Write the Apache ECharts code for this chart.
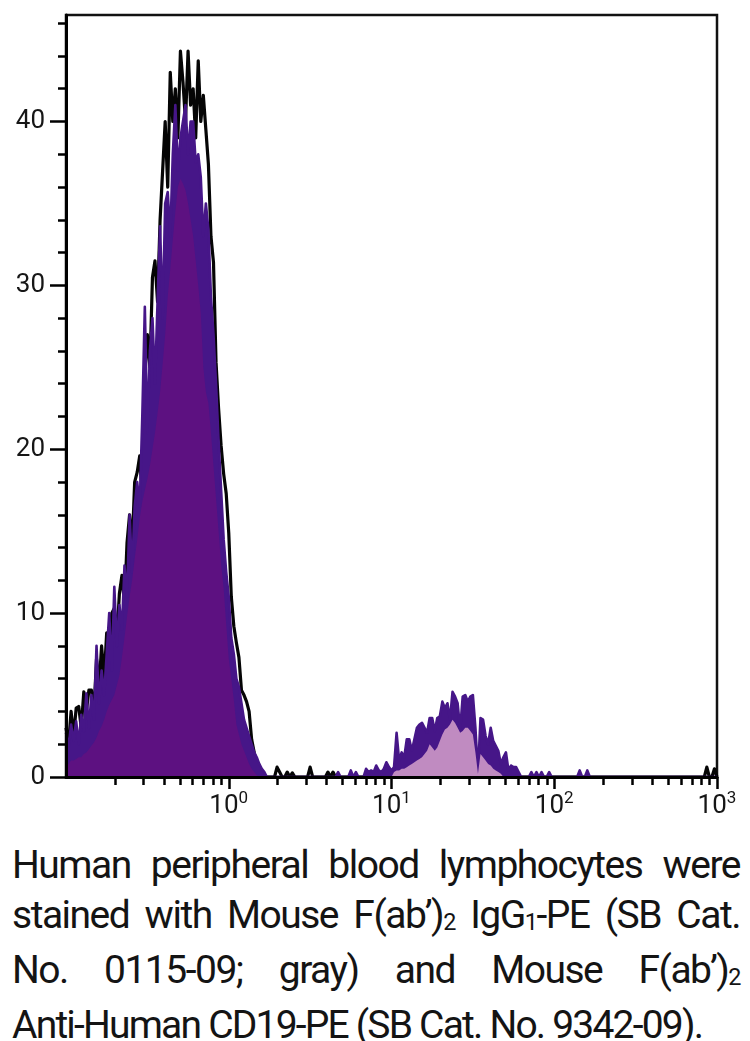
<!DOCTYPE html>
<html>
<head>
<meta charset="utf-8">
<script src="https://cdn.jsdelivr.net/npm/echarts@6/dist/echarts.min.js"></script>
<style>
html, body { margin: 0; padding: 0; background: #fff; }
#chart { position: absolute; left: 0; top: 0; width: 750px; height: 840px; }
#caption { position: absolute; left: 12px; top: 840px; width: 728px; font-family: Roboto, "Liberation Sans", sans-serif; font-size: 39px; letter-spacing: -1.5px; line-height: 50px; color: #141414; }
#caption .j { text-align: justify; text-align-last: justify; }
#caption .l { text-align: left; letter-spacing: -1.8px; }
#caption .sub { font-size: 0.6em; position: relative; top: 0.08em; }
</style>
</head>
<body>
<div id="chart"></div>
<div id="caption">
  <div class="j">Human peripheral blood lymphocytes were</div>
  <div class="j">stained with Mouse F(ab’)<span class="sub">2</span> IgG<span class="sub">1</span>-PE (SB Cat.</div>
  <div class="j">No. 0115-09; gray) and Mouse F(ab’)<span class="sub">2</span></div>
  <div class="l">Anti-Human CD19-PE (SB Cat. No. 9342-09).</div>
</div>
<script>
// ---- channel grid: log-spaced histogram bins (64 per decade, starting at 10^-1) ----
const channelsPerDecade = 64;
const firstExponent = -1;

// ---- axis ticks ----
const yTickValues = [0, 10, 20, 30, 40];
const xMajorTicks = [1, 10, 100, 1000];
const xMinorTicks = [0.2, 0.3, 0.4, 0.5, 0.6, 0.7, 0.8, 0.9,
                     2, 3, 4, 5, 6, 7, 8, 9,
                     20, 30, 40, 50, 60, 70, 80, 90,
                     200, 300, 400, 500, 600, 700, 800, 900];

// ---- isotype control (black outline), counts per channel 0..256 ----
const isotypeCounts = [
  3.0, 2.0, 4.0, 2.5, 4.2, 4.3, 3.0, 5.2, 4.0, 5.3, 5.3, 4.0, 7.2, 5.5, 8.0, 6.0,
  8.8, 7.0, 10.0, 10.3, 8.5, 11.2, 12.3, 10.5, 14.3, 16.0, 14.0, 18.0, 18.6, 19.6, 17.0, 24.5,
  27.0, 25.0, 30.5, 31.5, 29.0, 34.0, 37.0, 40.0, 36.0, 43.0, 40.0, 42.0, 39.0, 44.3, 42.4, 40.0,
  44.3, 41.0, 42.0, 39.0, 43.7, 40.0, 41.6, 39.5, 37.4, 33.0, 31.4, 25.3, 22.5, 20.2, 18.5, 17.3,
  14.9, 11.0, 9.2, 8.2, 7.3, 5.3, 5.0, 4.6, 4.0, 2.3, 1.5, 0.8, 0.3, 0, 0, 0,
  0, 0, 0, 0.6, 0.3, 0, 0, 0.3, 0, 0.25, 0, 0, 0, 0, 0, 0,
  0.6, 0, 0, 0, 0, 0, 0, 0.3, 0, 0.3, 0, 0, 0, 0, 0, 0,
  0, 0, 0, 0, 0, 0, 0, 0, 0, 0, 0, 0, 0, 0, 0, 0,
  0, 0, 0, 0, 0, 0, 0, 0, 0, 0, 0, 0, 0, 0, 0, 0,
  0, 0, 0, 0, 0, 0, 0, 0, 0, 0, 0, 0, 0, 0, 0, 0,
  0, 0, 0, 0, 0, 0, 0, 0, 0, 0, 0, 0, 0, 0, 0, 0,
  0, 0, 0, 0, 0, 0, 0, 0, 0, 0, 0, 0, 0, 0, 0, 0,
  0, 0, 0, 0, 0, 0, 0, 0, 0, 0, 0, 0, 0, 0, 0, 0,
  0, 0, 0, 0, 0, 0, 0, 0, 0, 0, 0, 0, 0, 0, 0, 0,
  0, 0, 0, 0, 0, 0, 0, 0, 0, 0, 0, 0, 0, 0, 0, 0,
  0, 0, 0, 0, 0, 0, 0, 0, 0, 0, 0, 0, 0.6, 0, 0, 0.5,
  0
];

// ---- anti-CD19 stained sample (spiky outline), counts per channel 0..256 ----
const cd19Counts = [
  2.7, 1.8, 3.2, 2.2, 3.4, 2.0, 3.8, 2.8, 5.1, 3.0, 5.0, 3.5, 8.0, 4.5, 6.5, 5.0,
  7.5, 10.0, 6.5, 11.6, 8.0, 10.5, 9.0, 12.9, 11.0, 16.0, 12.5, 16.5, 18.0, 16.5, 22.0, 28.7,
  21.0, 26.0, 28.0, 24.0, 29.0, 33.6, 28.0, 35.0, 35.7, 33.0, 38.0, 41.0, 37.0, 39.0, 40.0, 41.0,
  38.0, 40.0, 40.0, 37.5, 38.0, 36.6, 33.0, 35.0, 33.4, 29.3, 27.0, 24.0, 20.5, 17.5, 14.5, 12.5,
  11.0, 8.5, 7.5, 6.0, 5.5, 4.5, 3.5, 3.0, 2.5, 2.0, 1.5, 1.2, 0.8, 0.5, 0.3, 0,
  0, 0, 0, 0, 0, 0, 0, 0, 0, 0, 0, 0, 0, 0, 0, 0,
  0, 0, 0, 0, 0, 0, 0, 0, 0, 0, 0, 0.3, 0, 0, 0, 0,
  0.4, 0, 0.3, 0, 0, 0, 0.5, 0.3, 0.4, 0.3, 0.7, 0.4, 0.3, 0.5, 0.9, 0.6,
  0.4, 0.6, 2.7, 1.0, 1.5, 1.2, 2.3, 2.3, 1.6, 2.3, 3.0, 3.2, 3.3, 3.0, 2.7, 3.6,
  3.6, 2.8, 3.6, 3.7, 4.6, 4.2, 4.5, 3.5, 5.2, 4.9, 4.5, 2.9, 4.9, 5.0, 4.6, 4.9,
  5.0, 3.0, 0.2, 3.6, 3.5, 2.5, 2.0, 3.0, 2.2, 1.9, 1.6, 0.8, 1.2, 1.5, 0.4, 0.7,
  0.6, 0.6, 0.3, 0, 0, 0, 0, 0.3, 0, 0.3, 0, 0.3, 0, 0, 0.3, 0,
  0, 0, 0, 0, 0, 0, 0, 0, 0, 0, 0.4, 0, 0, 0.4, 0, 0,
  0, 0, 0, 0, 0, 0, 0, 0, 0, 0, 0, 0, 0, 0, 0, 0,
  0, 0, 0, 0, 0, 0, 0, 0, 0, 0, 0, 0, 0, 0, 0, 0,
  0, 0, 0, 0, 0, 0, 0, 0, 0, 0, 0, 0, 0, 0, 0, 0,
  0
];

// ---- solid fill level under the negative (CD19-) population ----
const negativeFillLevel = [
  0.6, 0.8, 1.0, 1.0, 1.1, 1.2, 1.2, 1.4, 1.5, 1.7, 1.9, 2.1, 2.4, 2.8, 3.1, 3.5,
  4.0, 4.4, 4.7, 5.0, 5.6, 6.2, 7.3, 8.5, 9.8, 11.0, 12.0, 13.3, 14.5, 15.8, 16.8, 17.5,
  18.2, 19.0, 20.0, 21.0, 22.2, 23.5, 25.2, 27.0, 29.3, 31.0, 32.8, 34.5, 36.0, 36.5, 36.2, 35.8,
  35.0, 34.0, 33.0, 31.5, 30.0, 28.3, 25.0, 23.5, 22.8, 21.0, 19.0, 17.0, 15.0, 13.0, 11.5, 9.3,
  7.2, 6.0, 4.7, 3.2, 2.6, 2.0, 1.6, 1.2, 0.8, 0.5, 0.3, 0.1, 0, 0, 0, 0,
  0, 0, 0, 0, 0, 0, 0, 0, 0, 0, 0, 0, 0, 0, 0, 0,
  0, 0, 0, 0, 0, 0, 0, 0, 0, 0, 0, 0, 0, 0, 0, 0,
  0, 0, 0, 0, 0, 0, 0, 0, 0, 0, 0, 0, 0, 0, 0, 0,
  0, 0, 0, 0, 0, 0, 0, 0, 0, 0, 0, 0, 0, 0, 0, 0,
  0, 0, 0, 0, 0, 0, 0, 0, 0, 0, 0, 0, 0, 0, 0, 0,
  0, 0, 0, 0, 0, 0, 0, 0, 0, 0, 0, 0, 0, 0, 0, 0,
  0, 0, 0, 0, 0, 0, 0, 0, 0, 0, 0, 0, 0, 0, 0, 0,
  0, 0, 0, 0, 0, 0, 0, 0, 0, 0, 0, 0, 0, 0, 0, 0,
  0, 0, 0, 0, 0, 0, 0, 0, 0, 0, 0, 0, 0, 0, 0, 0,
  0, 0, 0, 0, 0, 0, 0, 0, 0, 0, 0, 0, 0, 0, 0, 0,
  0, 0, 0, 0, 0, 0, 0, 0, 0, 0, 0, 0, 0, 0, 0, 0,
  0
];

// ---- solid (light) fill level under the positive (CD19+) population ----
const positiveFillLevel = [
  0, 0, 0, 0, 0, 0, 0, 0, 0, 0, 0, 0, 0, 0, 0, 0,
  0, 0, 0, 0, 0, 0, 0, 0, 0, 0, 0, 0, 0, 0, 0, 0,
  0, 0, 0, 0, 0, 0, 0, 0, 0, 0, 0, 0, 0, 0, 0, 0,
  0, 0, 0, 0, 0, 0, 0, 0, 0, 0, 0, 0, 0, 0, 0, 0,
  0, 0, 0, 0, 0, 0, 0, 0, 0, 0, 0, 0, 0, 0, 0, 0,
  0, 0, 0, 0, 0, 0, 0, 0, 0, 0, 0, 0, 0, 0, 0, 0,
  0, 0, 0, 0, 0, 0, 0, 0, 0, 0, 0, 0, 0, 0, 0, 0,
  0, 0, 0, 0, 0, 0, 0, 0, 0, 0, 0, 0, 0, 0, 0, 0,
  0, 0.3, 0.4, 0.4, 0.5, 0.5, 0.6, 0.7, 0.8, 0.9, 1.0, 1.1, 1.2, 1.4, 1.6, 2.0,
  1.8, 1.6, 1.8, 2.2, 2.6, 2.9, 3.0, 3.2, 3.5, 3.3, 3.0, 2.7, 2.8, 3.0, 3.0, 2.8,
  2.6, 1.5, 0.2, 1.4, 1.2, 1.0, 0.8, 0.7, 0.5, 0.4, 0.3, 0.2, 0, 0, 0, 0,
  0, 0, 0, 0, 0, 0, 0, 0, 0, 0, 0, 0, 0, 0, 0, 0,
  0, 0, 0, 0, 0, 0, 0, 0, 0, 0, 0, 0, 0, 0, 0, 0,
  0, 0, 0, 0, 0, 0, 0, 0, 0, 0, 0, 0, 0, 0, 0, 0,
  0, 0, 0, 0, 0, 0, 0, 0, 0, 0, 0, 0, 0, 0, 0, 0,
  0, 0, 0, 0, 0, 0, 0, 0, 0, 0, 0, 0, 0, 0, 0, 0,
  0
];

// ---- styling ----
const FONT = 'Roboto, "Liberation Sans", sans-serif';
const TEXT_COLOR = '#161616';
const AXIS_COLOR = '#000000';
const CONTROL_COLOR = '#050505';
const CD19_LINE_COLOR = '#461688';
const NEG_FILL_COLOR = '#5d1181';
const POS_FILL_COLOR = '#c08bc1';

function channelValue(i) { return Math.pow(10, firstExponent + i / channelsPerDecade); }
function toPoints(arr) { return arr.map(function (v, i) { return [channelValue(i), v]; }); }

const chart = echarts.init(document.getElementById('chart'), null, { renderer: 'canvas' });

const tickStyle = { color: AXIS_COLOR, width: 2.5 };

const option = {
  animation: false,
  backgroundColor: '#ffffff',
  grid: {
    left: 66, right: 33, top: 15, bottom: 63,
    show: true, borderColor: '#111111', borderWidth: 2.5,
    backgroundColor: 'transparent',
    outerBoundsMode: 'none'
  },
  xAxis: [
    {
      type: 'log', logBase: 10, min: 0.1, max: 1000, position: 'bottom', z: 10,
      axisLine: { show: true, lineStyle: { color: AXIS_COLOR, width: 3 } },
      axisTick: { show: true, customValues: xMajorTicks, length: 12, lineStyle: tickStyle },
      minorTick: { show: false },
      splitLine: { show: false },
      axisLabel: {
        customValues: xMajorTicks,
        margin: 12,
        formatter: function (value) {
          const e = Math.round(Math.log10(value));
          return '{b|10}{s|' + e + '}';
        },
        rich: {
          b: { fontSize: 26, fontFamily: FONT, color: TEXT_COLOR, verticalAlign: 'bottom', lineHeight: 30 },
          s: { fontSize: 17, fontFamily: FONT, color: TEXT_COLOR, verticalAlign: 'bottom', lineHeight: 30, padding: [0, 0, 12, 0] }
        }
      }
    },
    {
      type: 'log', logBase: 10, min: 0.1, max: 1000, position: 'bottom', z: 10,
      axisLine: { show: false },
      axisTick: { show: true, customValues: xMinorTicks, length: 8, lineStyle: tickStyle },
      axisLabel: { show: false },
      splitLine: { show: false }
    }
  ],
  yAxis: {
    type: 'value', min: 0, max: 46.5, interval: 10, z: 10,
    axisLine: { show: true, lineStyle: { color: AXIS_COLOR, width: 3 } },
    axisTick: { show: true, customValues: yTickValues, length: 16, lineStyle: tickStyle },
    minorTick: { show: true, splitNumber: 5, length: 8, lineStyle: tickStyle },
    splitLine: { show: false },
    minorSplitLine: { show: false },
    axisLabel: { customValues: yTickValues, margin: 21, fontSize: 26, fontFamily: FONT, color: TEXT_COLOR }
  },
  series: [
    {
      name: 'Isotype control', type: 'line', xAxisIndex: 0, z: 2,
      data: toPoints(isotypeCounts), showSymbol: false, symbol: 'none',
      lineStyle: { color: CONTROL_COLOR, width: 3.2, join: 'round' }
    },
    {
      name: 'CD19', type: 'line', xAxisIndex: 0, z: 3,
      data: toPoints(cd19Counts), showSymbol: false, symbol: 'none',
      lineStyle: { color: CD19_LINE_COLOR, width: 2.6, join: 'round' },
      areaStyle: { color: CD19_LINE_COLOR, opacity: 1 }
    },
    {
      name: 'CD19 negative fill', type: 'line', xAxisIndex: 0, z: 4,
      data: toPoints(negativeFillLevel), showSymbol: false, symbol: 'none',
      lineStyle: { width: 0, opacity: 0 },
      areaStyle: { color: NEG_FILL_COLOR, opacity: 1 }
    },
    {
      name: 'CD19 positive fill', type: 'line', xAxisIndex: 0, z: 4,
      data: toPoints(positiveFillLevel), showSymbol: false, symbol: 'none',
      lineStyle: { width: 0, opacity: 0 },
      areaStyle: { color: POS_FILL_COLOR, opacity: 1 }
    }
  ]
};

chart.setOption(option);
</script>
</body>
</html>
